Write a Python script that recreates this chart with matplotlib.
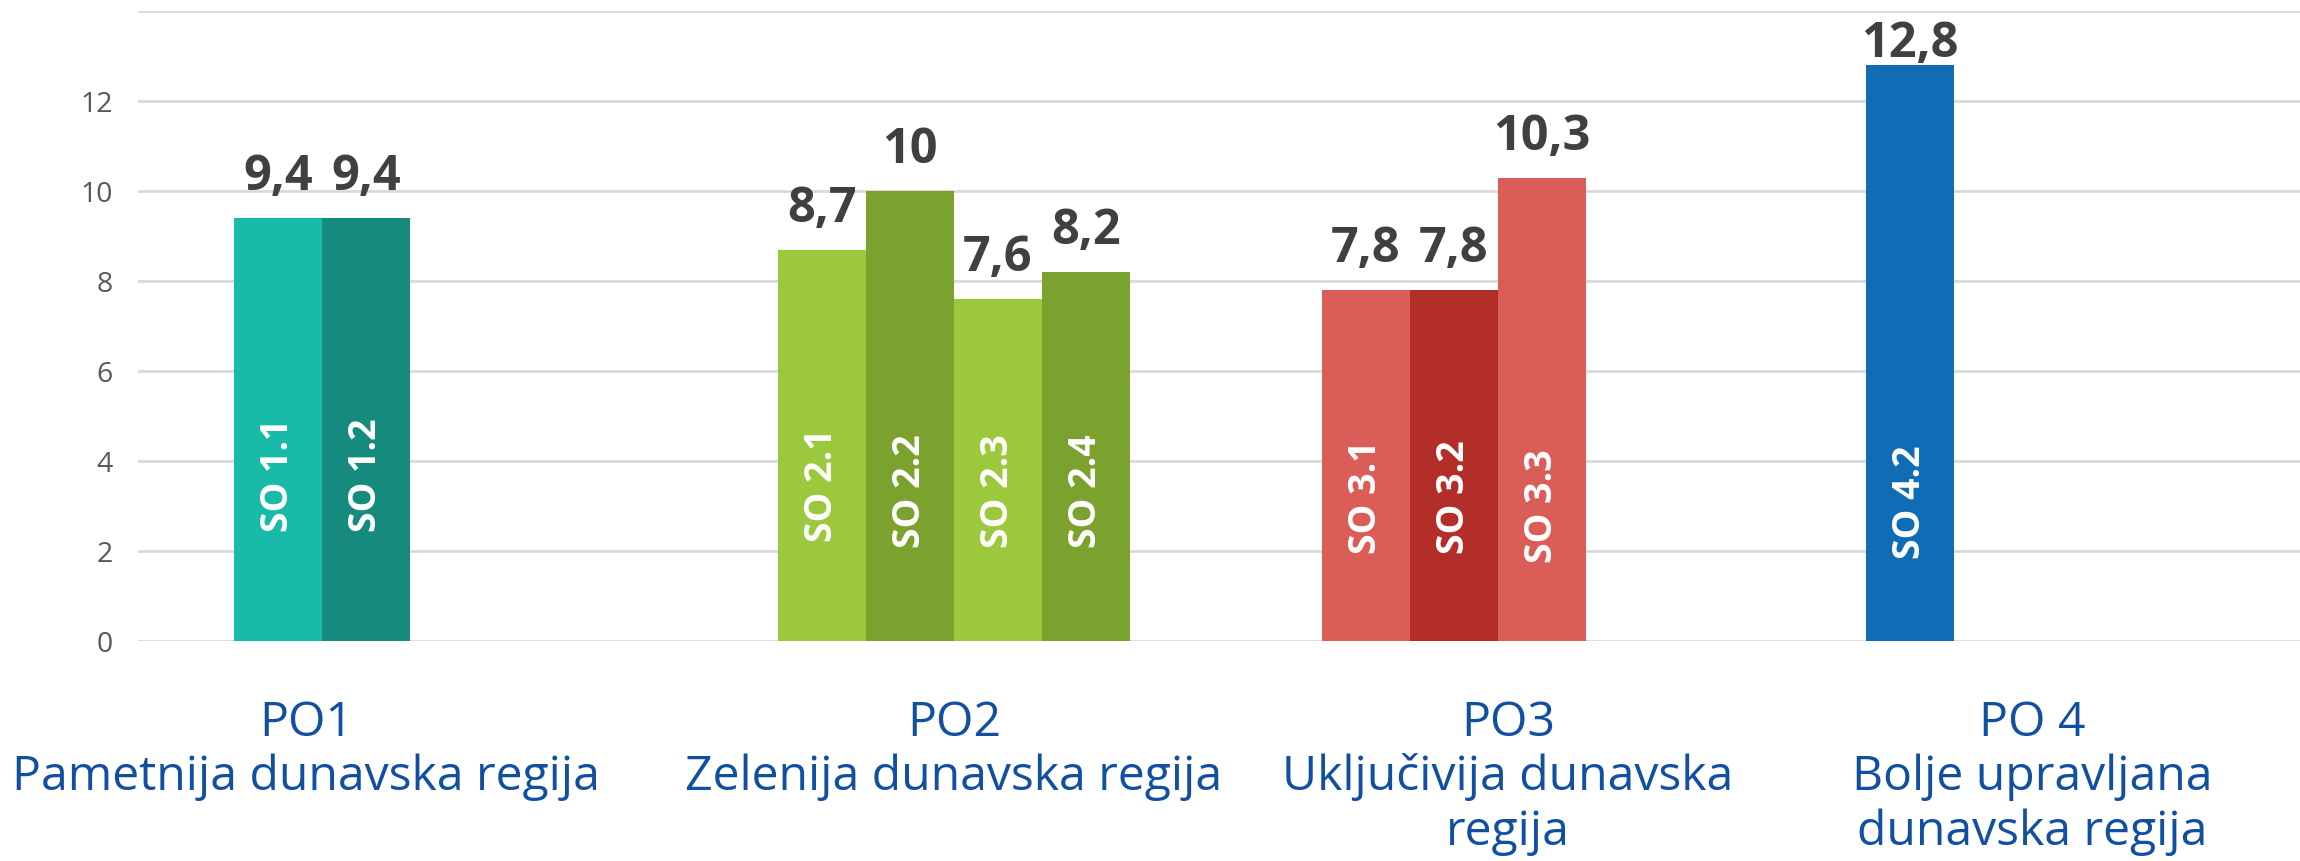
import matplotlib
matplotlib.use('Agg')
import matplotlib.pyplot as plt

# data
po_labels = ['PO1\nPametnija dunavska regija',
             'PO2\nZelenija dunavska regija',
             'PO3\nUključivija dunavska\nregija',
             'PO 4\nBolje upravljana\ndunavska regija']
so_names = [['SO 1.1', 'SO 1.2'],
            ['SO 2.1', 'SO 2.2', 'SO 2.3', 'SO 2.4'],
            ['SO 3.1', 'SO 3.2', 'SO 3.3'],
            ['SO 4.2']]
so_values = [[9.4, 9.4],
             [8.7, 10, 7.6, 8.2],
             [7.8, 7.8, 10.3],
             [12.8]]

# styling / layout
colors = [['#1ABAA8', '#168B7D'],
          ['#9BC83C', '#7BA12F', '#9BC83C', '#7BA12F'],
          ['#DB5D58', '#B32E29', '#DB5D58'],
          ['#0F6CB5']]
inner_mid = [[3.71, 3.71], [3.49, 3.36, 3.36, 3.36], [3.22, 3.22, 3.02], [3.11]]
label_x_px = [306, 954, 1508, 2032]
W, H = 2300, 862
slots = 4
bar_w = 88 / 544
ymax = 14

plt.rcParams['font.family'] = ['Open Sans', 'DejaVu Sans']

fig = plt.figure(figsize=(W / 100, H / 100), dpi=100)
ax = fig.add_axes([138 / W, (H - 642) / H, 2176 / W, 630 / H])
ax.set_xlim(-0.5, len(so_values) - 0.5)
ax.set_ylim(0, ymax)

px_per_unit = 630 / ymax
for c, vals in enumerate(so_values):
    for k, v in enumerate(vals):
        x = c + (k - (slots - 1) / 2) * bar_w
        ax.bar(x, v, width=bar_w, color=colors[c][k], linewidth=0, zorder=2)
        # value label above bar
        yb = min(v + 29 / px_per_unit, ymax - 45 / px_per_unit)
        ax.text(x, yb, f'{v:g}'.replace('.', ','), ha='center', va='baseline',
                fontsize=35, fontweight='bold', color='#404040')
        # name inside bar
        ax.text(x, inner_mid[c][k], so_names[c][k], rotation=90, ha='center',
                va='center', fontsize=27, fontweight='bold', color='white',
                zorder=3)

ax.set_yticks(range(0, ymax + 1, 2))
ax.set_yticklabels([str(t) if t < ymax else '' for t in range(0, ymax + 1, 2)])
ax.tick_params(axis='y', length=0, pad=18, labelsize=20.5, labelcolor='#595959')
ax.set_xticks([])
ax.grid(axis='y', color='#D9D9D9', linewidth=2, zorder=0)
ax.set_axisbelow(True)
for s in ax.spines.values():
    s.set_visible(False)

for i, lab in enumerate(po_labels):
    for j, line in enumerate(lab.split('\n')):
        fig.text(label_x_px[i] / W, 1 - (723 + 54.5 * j) / H, line,
                 ha='center', va='center', fontsize=34.7, color='#1150A0')

fig.savefig('out.png', dpi=100, facecolor='white')
